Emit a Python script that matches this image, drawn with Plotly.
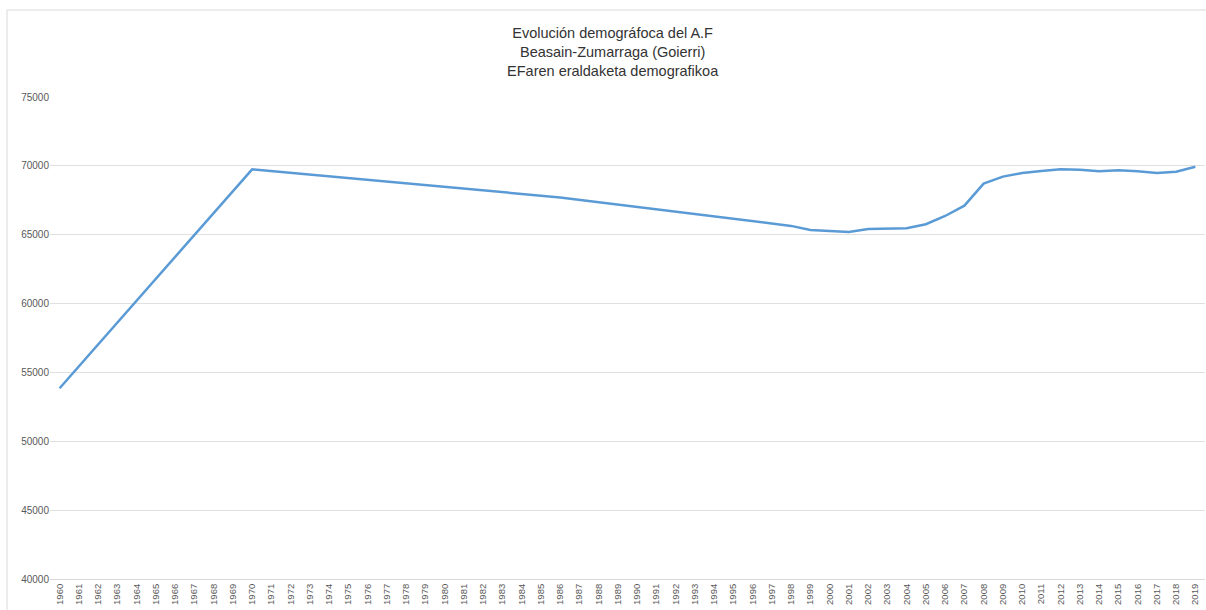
import plotly.graph_objects as go

years = [str(y) for y in range(1960, 2020)]
known = {
    1960: 53850, 1970: 69750, 1986: 67710, 1998: 65640, 1999: 65340, 2000: 65270,
    2001: 65200, 2002: 65420, 2003: 65420, 2004: 65470, 2005: 65760, 2006: 66360,
    2007: 67110, 2008: 68710, 2009: 69220, 2010: 69480, 2011: 69630, 2012: 69750,
    2013: 69720, 2014: 69610, 2015: 69680, 2016: 69610, 2017: 69480, 2018: 69580,
    2019: 69940,
}
population = [known.get(int(y)) for y in years]
y_ticks = [40000, 45000, 50000, 55000, 60000, 65000, 70000, 75000]
y_labels = [str(v) for v in y_ticks]
title_lines = ["Evolución demográfoca del A.F", "Beasain-Zumarraga (Goierri)", "EFaren eraldaketa demografikoa"]

fig = go.Figure()
fig.add_trace(go.Scatter(
    x=years, y=population, mode="lines", connectgaps=True,
    line=dict(color="#5B9BD5", width=2.5), showlegend=False,
))

fig.update_layout(
    width=1206, height=610,
    margin=dict(l=50, r=1, t=97, b=31),
    paper_bgcolor="white", plot_bgcolor="white",
    font=dict(family="Liberation Sans, Arial, sans-serif", color="#595959"),
    title=dict(text="<br>".join(title_lines), x=0.508, xanchor="center", y=0.937, yanchor="top",
               font=dict(size=14.5, color="#333333")),
    xaxis=dict(type="category", range=[-0.5, 59.5], tickangle=-90, tickfont=dict(size=9.5),
               showgrid=False, showline=True, linecolor="#d9d9d9", ticks="", ticklen=0),
    yaxis=dict(range=[40000, 75000], tickvals=y_ticks, ticktext=y_labels, tickfont=dict(size=10),
               showgrid=True, gridcolor="#e0e0e0", zeroline=False, showline=False, ticks=""),
    shapes=[dict(type="rect", xref="paper", yref="paper",
                 x0=(7 - 50) / 1155, x1=1.01, y0=-0.2, y1=(579 - 10) / 482,
                 line=dict(color="#d9d9d9", width=1), fillcolor="rgba(0,0,0,0)", layer="below")],
)
fig.write_html("out.html", config={"displayModeBar": False},
               post_script="document.body.style.margin='0';document.body.style.overflow='hidden';")
